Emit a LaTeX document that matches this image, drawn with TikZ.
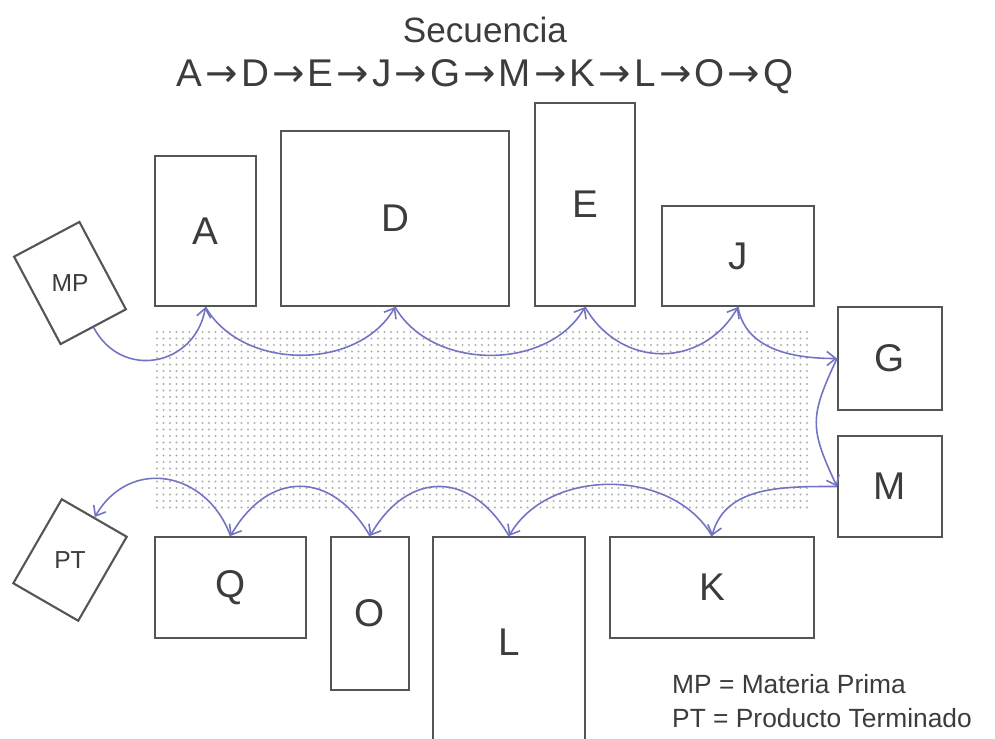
\documentclass[tikz,border=0pt]{standalone}
\usepackage{fontspec}
\setmainfont{Liberation Sans}
\newfontfamily\arrfont{DejaVu Sans}
\usetikzlibrary{arrows.meta}
\definecolor{boxc}{RGB}{85,85,85}
\definecolor{arrc}{RGB}{115,115,195}
\definecolor{txtc}{RGB}{60,60,60}
\definecolor{dotc}{RGB}{175,175,175}
\newcommand{\ar}{{\arrfont\kern1.8pt→\kern1.8pt}}
\begin{document}
\begin{tikzpicture}[x=0.02cm,y=0.02cm,
  box/.style={draw=boxc, line width=1.2pt, inner sep=0pt, text=txtc,
    font=\fontsize{22}{24}\selectfont},
  small/.style={text=txtc, font=\fontsize{14}{16}\selectfont},
  flow/.style={draw=arrc, line width=0.9pt, -{Straight Barb[length=5pt,width=8pt]}}]
\useasboundingbox (0,0) rectangle (995,-738);
% dotted floor area
\foreach \i in {0,...,100}{
  \foreach \j in {0,...,27}{
    \fill[dotc] (157+6.5*\i,-332-6.5*\j) circle[radius=1.1];
  }
}
% titles
\node[text=txtc, font=\fontsize{20}{22}\selectfont] (title) at (485,-30) {Secuencia};
\node[text=txtc, font=\fontsize{22}{24}\selectfont] (seq) at (485,-77)
  {A\ar D\ar E\ar J\ar G\ar M\ar K\ar L\ar O\ar Q};
% machines
\node[box, minimum width=2.02cm, minimum height=3cm] (A) at (205.5,-231) {A};
\node[box, minimum width=4.56cm, minimum height=3.5cm] (D) at (395,-218.5) {D};
\node[box, minimum width=2cm, minimum height=4.06cm] (E) at (585,-204.5) {E};
\node[box, minimum width=3.04cm, minimum height=2cm] (J) at (738,-256) {J};
\node[box, minimum width=2.08cm, minimum height=2.06cm] (G) at (890,-358.5) {G};
\node[box, minimum width=2.08cm, minimum height=2.02cm] (M) at (890,-486.5) {M};
\node[box, minimum width=4.08cm, minimum height=2.02cm] (K) at (712,-587.5) {K};
\node[box, minimum width=3.04cm, minimum height=4.2cm] (L) at (509,-642) {L};
\node[box, minimum width=1.56cm, minimum height=3.06cm] (O) at (370,-613.5) {O};
\node[box, minimum width=3.02cm, minimum height=2.02cm] (Q) at (230.5,-587.5) {Q};
% raw material / finished product
\node[box, rotate=28, minimum width=1.48cm, minimum height=1.98cm] (MP) at (70,-283) {};
\node[small] (MPt) at (MP.center) {MP};
\node[box, rotate=-30, minimum width=1.5cm, minimum height=1.94cm] (PT) at (70,-560) {};
\node[small] (PTt) at (PT.center) {PT};
% flow
\draw[flow] (MP.south) to[out=-62, in=-100, looseness=1.35] (A.south);
\draw[flow] (A.south) to[out=-60, in=-120] (D.south);
\draw[flow] (D.south) to[out=-60, in=-120] (E.south);
\draw[flow] (E.south) to[out=-60, in=-120, looseness=1.2] (J.south);
\draw[flow] (J.south) to[out=-80, in=180] (G.west);
\draw[flow] (G.west) to[out=-115, in=115, looseness=1.3] (M.west);
\draw[flow] (M.west) to[out=180, in=75] (K.north);
\draw[flow] (K.north) to[out=120, in=60] (L.north);
\draw[flow] (L.north) to[out=120, in=60, looseness=1.4] (O.north);
\draw[flow] (O.north) to[out=120, in=60, looseness=1.4] (Q.north);
\draw[flow] (Q.north) to[out=110, in=60, looseness=1.3] (PT.north);
% legend
\node[text=txtc, font=\fontsize{15}{19.3}\selectfont, anchor=west, align=left] (leg) at (666,-701)
  {MP = Materia Prima\\PT = Producto Terminado};
\end{tikzpicture}
\end{document}
